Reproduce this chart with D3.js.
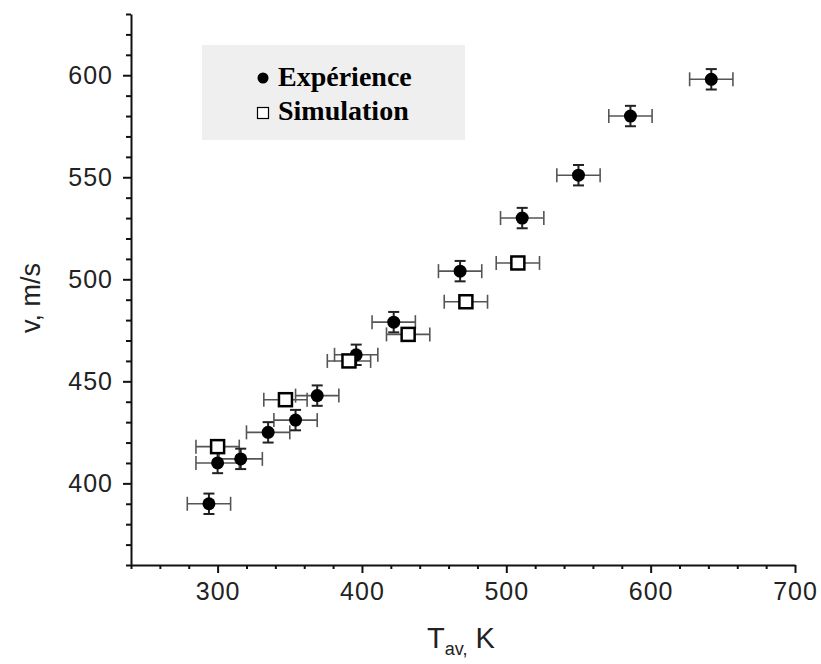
<!DOCTYPE html>
<html>
<head>
<meta charset="utf-8">
<script src="https://cdn.jsdelivr.net/npm/d3@7"></script>
<style>
  html, body { margin: 0; padding: 0; background: #fff; }
  svg { display: block; }
  .tick text { font-family: "Liberation Sans", Arial, sans-serif; fill: #222; }
</style>
</head>
<body>
<svg id="chart" width="821" height="664"></svg>
<script>
// Measured flow velocity vs. average temperature
const expT = [294, 300, 316, 335, 354, 369, 396, 422, 468, 511, 550, 586, 642];
const expV = [390, 410, 412, 425, 431, 443, 463, 479, 504, 530, 551, 580, 598];
const simT = [300, 347, 391, 432, 472, 508];
const simV = [418, 441, 460, 473, 489, 508];
const tErr = 15;      // K, both series
const vErrExp = 5;    // m/s, experiment only

const xTicks = [300, 400, 500, 600, 700];
const yTicks = [400, 450, 500, 550, 600];
const legendLabels = ["Expérience", "Simulation"];

const svg = d3.select("#chart");

const x = d3.scaleLinear().domain([240, 700]).range([131, 795]);
const y = d3.scaleLinear().domain([360, 630]).range([565, 14]);

// Axes: major ticks with labels, minor ticks in between
const xMinor = d3.range(240, 701, 20).filter(v => !xTicks.includes(v));
const yMinor = d3.range(360, 631, 10).filter(v => !yTicks.includes(v));

const gx = svg.append("g").attr("transform", `translate(0,${y.range()[0]})`);
gx.call(d3.axisBottom(x).tickValues(xTicks).tickSize(8).tickSizeOuter(0).tickPadding(9));
gx.append("g").call(d3.axisBottom(x).tickValues(xMinor).tickSize(4).tickFormat(""))
  .select(".domain").remove();

const gy = svg.append("g").attr("transform", `translate(${x.range()[0]},0)`);
gy.call(d3.axisLeft(y).tickValues(yTicks).tickSize(8).tickSizeOuter(0).tickPadding(10));
gy.append("g").call(d3.axisLeft(y).tickValues(yMinor).tickSize(5).tickFormat(""))
  .select(".domain").remove();

svg.selectAll(".domain").attr("stroke", "#111").attr("stroke-width", 2);
svg.selectAll(".tick line").attr("stroke", "#111").attr("stroke-width", 2);
svg.selectAll(".tick text")
  .attr("font-size", 25)
  .attr("letter-spacing", 1)
  .attr("fill", "#1c1c1c");

// Axis titles
const xt = svg.append("text")
  .attr("x", 427).attr("y", 648)
  .attr("font-family", "Liberation Sans, Arial, sans-serif")
  .attr("font-size", 29).attr("fill", "#222");
xt.append("tspan").text("T");
xt.append("tspan").attr("dy", 7).attr("font-size", 18).text("av,");
xt.append("tspan").attr("dy", -7).text(" K");

svg.append("text")
  .attr("transform", "translate(40,298) rotate(-90)")
  .attr("text-anchor", "middle")
  .attr("font-family", "Liberation Sans, Arial, sans-serif")
  .attr("font-size", 27).attr("fill", "#222")
  .text("v, m/s");

// Legend
const lg = svg.append("g");
lg.append("rect").attr("x", 202).attr("y", 45).attr("width", 263).attr("height", 95)
  .attr("fill", "#efefef");
lg.append("circle").attr("cx", 263).attr("cy", 78).attr("r", 5.5).attr("fill", "#000");
lg.append("rect").attr("x", 257.5).attr("y", 107.5).attr("width", 11).attr("height", 11)
  .attr("fill", "#fff").attr("stroke", "#000").attr("stroke-width", 1.2);
lg.selectAll("text.leg").data(legendLabels).join("text")
  .attr("class", "leg")
  .attr("x", 278).attr("y", (d, i) => 86 + i * 34)
  .attr("font-family", "Liberation Serif, Times New Roman, serif")
  .attr("font-weight", "bold").attr("font-size", 28).attr("fill", "#000")
  .text(d => d);

// Error bars
const capH = 14, capV = 11;
function hBars(g, T, V) {
  const d = T.map((t, i) => ({ t, v: V[i] }));
  const sel = g.selectAll(null).data(d).join("g").attr("stroke", "#555").attr("stroke-width", 1.6);
  sel.append("line")
    .attr("x1", p => x(p.t - tErr)).attr("x2", p => x(p.t + tErr))
    .attr("y1", p => y(p.v)).attr("y2", p => y(p.v));
  sel.append("line")
    .attr("x1", p => x(p.t - tErr)).attr("x2", p => x(p.t - tErr))
    .attr("y1", p => y(p.v) - capH / 2).attr("y2", p => y(p.v) + capH / 2);
  sel.append("line")
    .attr("x1", p => x(p.t + tErr)).attr("x2", p => x(p.t + tErr))
    .attr("y1", p => y(p.v) - capH / 2).attr("y2", p => y(p.v) + capH / 2);
}
const bars = svg.append("g");
hBars(bars, expT, expV);
hBars(bars, simT, simV);

const expPts = expT.map((t, i) => ({ t, v: expV[i] }));
const vb = bars.selectAll(null).data(expPts).join("g").attr("stroke", "#222").attr("stroke-width", 2);
vb.append("line")
  .attr("x1", p => x(p.t)).attr("x2", p => x(p.t))
  .attr("y1", p => y(p.v - vErrExp)).attr("y2", p => y(p.v + vErrExp));
[-1, 1].forEach(s => {
  vb.append("line")
    .attr("x1", p => x(p.t) - capV / 2).attr("x2", p => x(p.t) + capV / 2)
    .attr("y1", p => y(p.v + s * vErrExp)).attr("y2", p => y(p.v + s * vErrExp));
});

// Markers
svg.append("g").selectAll("circle").data(expPts).join("circle")
  .attr("cx", p => x(p.t)).attr("cy", p => y(p.v)).attr("r", 6.5)
  .attr("fill", "#000");

const simPts = simT.map((t, i) => ({ t, v: simV[i] }));
const sq = 13;
svg.append("g").selectAll("rect").data(simPts).join("rect")
  .attr("x", p => x(p.t) - sq / 2).attr("y", p => y(p.v) - sq / 2)
  .attr("width", sq).attr("height", sq)
  .attr("fill", "#fff").attr("stroke", "#000").attr("stroke-width", 2.5);
</script>
</body>
</html>
